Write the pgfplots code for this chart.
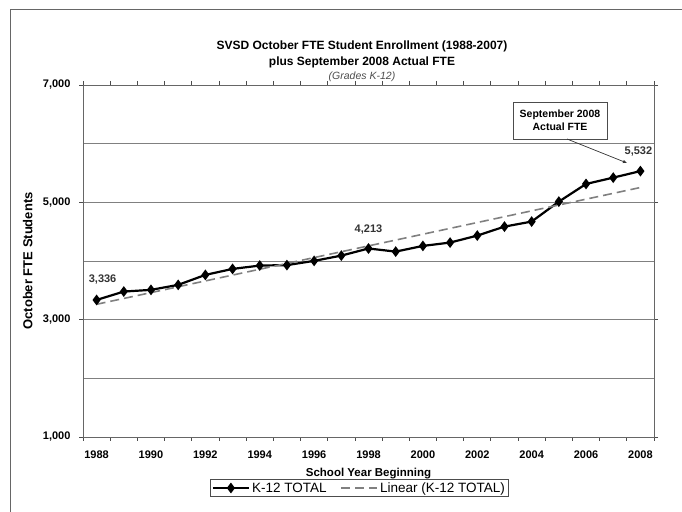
\documentclass[border=0pt]{standalone}
\usepackage{pgfplots}
\pgfplotsset{compat=1.18}
\usepackage{fontspec}
\setmainfont{Liberation Sans}
\usetikzlibrary{arrows.meta}
\definecolor{gridgray}{RGB}{128,128,128}
\definecolor{trendgray}{RGB}{128,128,128}
\begin{document}
\begin{tikzpicture}
\begin{scope}[x=1bp,y=1bp]
\useasboundingbox (0,0) rectangle (682,512);
% chart area frame (only left and top visible)
\draw[gray!80!black, line width=0.8bp] (10,-10) -- (10,503) -- (700,503);
% titles
\node[font=\bfseries\fontsize{12bp}{14bp}\selectfont] at (362,466) {SVSD October FTE Student Enrollment (1988-2007)};
\node[font=\bfseries\fontsize{12bp}{14bp}\selectfont] at (362,450) {plus September 2008 Actual FTE};
\node[font=\itshape\fontsize{10.5bp}{12bp}\selectfont, text=black!70] at (362,435) {(Grades K-12)};
\end{scope}
\begin{axis}[
  at={(83bp,75bp)}, anchor=south west,
  scale only axis, width=571bp, height=352bp,
  xmin=1987.5, xmax=2008.5, ymin=1000, ymax=7000,
  xtick={1988,1990,...,2008},
  minor xtick={1987.5,1988.5,...,2008.5},
  major x tick style={draw=none},
  minor x tick style={draw=black!70, line width=0.8bp},
  minor tick length=4bp,
  ytick={1000,3000,5000,7000},
  minor ytick={2000,4000,6000},
  minor y tick style={draw=none},
  major y tick style={draw=black!70, line width=0.8bp},
  major tick length=4bp,
  tick align=outside,
  ymajorgrids, yminorgrids,
  major grid style={gridgray, line width=0.9bp},
  minor grid style={gridgray, line width=0.9bp},
  axis line style={black!60, line width=0.9bp},
  x axis line style={black!75},
  /pgf/number format/assume math mode=true,
  xticklabel style={/pgf/number format/1000 sep={}, font=\bfseries\fontsize{11bp}{13bp}\selectfont, yshift=-6bp},
  yticklabel style={/pgf/number format/1000 sep={,}, font=\bfseries\fontsize{11bp}{13bp}\selectfont, xshift=-5bp},
  xlabel={School Year Beginning},
  xlabel style={at={(axis description cs:0.5,-0.105)}, anchor=center, font=\bfseries\fontsize{11.5bp}{13bp}\selectfont},
  ylabel={October FTE Students},
  ylabel style={at={(axis description cs:-0.097,0.5)}, anchor=center, font=\bfseries\fontsize{13bp}{15bp}\selectfont},
  legend columns=2,
  legend style={at={(axis description cs:0.484,-0.145)}, anchor=center, draw=black!70, line width=0.7bp,
    font=\fontsize{13.5bp}{15bp}\selectfont, inner sep=1bp, row sep=0bp,
    /tikz/every even column/.append style={column sep=12bp}},
  legend image code/.code={\draw[mark repeat=2,mark phase=2,#1] plot coordinates {(0bp,0bp) (18bp,0bp) (36bp,0bp)};},
  clip=false,
]
\addplot[black, line width=2.2bp, mark=diamond*, mark size=3.6bp, mark options={fill=black}]
coordinates {
(1988,3336) (1989,3479) (1990,3508) (1991,3593) (1992,3763) (1993,3865)
(1994,3922) (1995,3930) (1996,4002) (1997,4092) (1998,4213) (1999,4160)
(2000,4257) (2001,4314) (2002,4433) (2003,4586) (2004,4672) (2005,5012)
(2006,5313) (2007,5421) (2008,5532)
};
\addlegendentry{K-12 TOTAL}
\addplot[trendgray, line width=1.6bp, dash pattern=on 9bp off 5bp]
coordinates {(1988,3262) (2008,5253)};
\addlegendentry{Linear (K-12 TOTAL)}
\node[font=\bfseries\fontsize{11bp}{13bp}\selectfont, text=black!80] at (axis cs:1988,3336) [xshift=6bp, yshift=20bp] {3,336};
\node[font=\bfseries\fontsize{11bp}{13bp}\selectfont, text=black!80] at (axis cs:1998,4213) [yshift=19bp] {4,213};
\node[font=\bfseries\fontsize{11bp}{13bp}\selectfont, text=black!80] at (axis cs:2008,5532) [xshift=-2bp, yshift=20bp] {5,532};
\end{axis}
\begin{scope}[x=1bp,y=1bp]
% callout
\draw[black!70, line width=0.7bp, fill=white] (513,373) rectangle (607,410);
\node[font=\bfseries\fontsize{10.5bp}{13bp}\selectfont, align=center] at (560,391.5) {September 2008\\Actual FTE};
\draw[black!80, line width=0.7bp, -{Latex[length=4bp,width=3.5bp]}] (567,373) -- (627,349);
\end{scope}
\end{tikzpicture}
\end{document}
